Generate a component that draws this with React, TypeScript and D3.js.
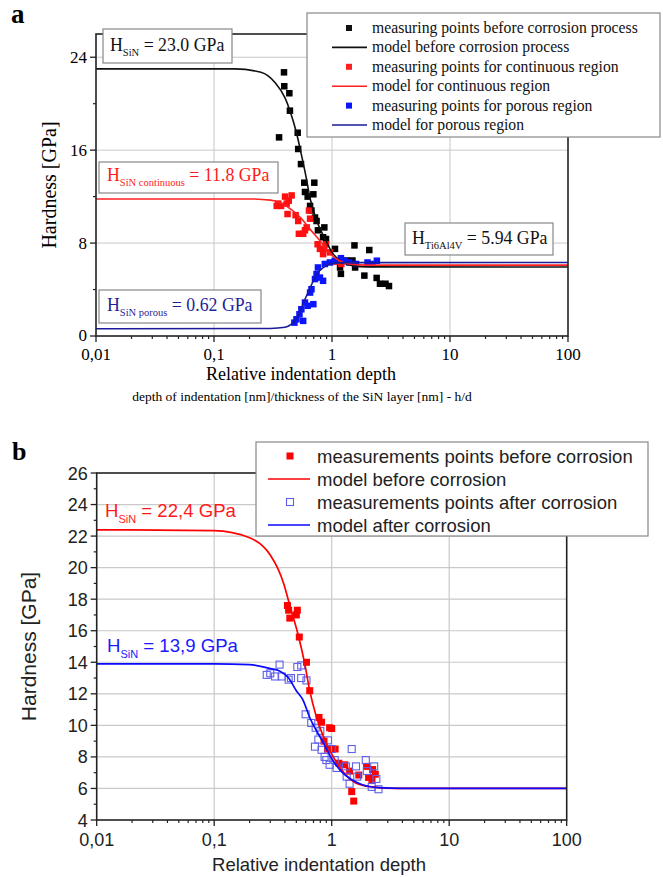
import React from 'react';
import * as d3 from 'd3';

// ---------- shared axis data ----------
const X_TICKS = [0.01, 0.1, 1, 10, 100];
const X_TICK_LABELS = ['0,01', '0,1', '1', '10', '100'];
const X_GRID = [0.1, 1, 10];

// ---------- panel a ----------
const A_Y_TICKS = [0, 8, 16, 24];
const A_Y_MINOR = [4, 12, 20];
const A_Y_GRID = [8, 16, 24];

const A_BEFORE_POINTS: [number, number][] = [
  [0.392, 22.7], [0.394, 21.5], [0.435, 20.9], [0.44, 19.4], [0.356, 17.1], [0.512, 17.5],
  [0.517, 16.1], [0.546, 14.8], [0.582, 13.2], [0.708, 13.2], [0.59, 12.4], [0.622, 12.0],
  [0.695, 12.2], [0.652, 11.2], [0.67, 10.8], [0.718, 10.2], [0.74, 9.9], [0.861, 9.35],
  [0.76, 9.1], [0.84, 8.5], [0.89, 8.35], [1.06, 7.5], [1.55, 7.8], [2.07, 7.4],
  [1.17, 5.9], [1.19, 5.35], [1.33, 6.5], [1.49, 6.5], [1.57, 5.9], [1.88, 5.2],
  [2.39, 5.0], [2.55, 4.5], [2.84, 4.5], [3.04, 4.3],
];
const A_CONT_POINTS: [number, number][] = [
  [0.34, 11.2], [0.35, 11.4], [0.37, 11.2], [0.40, 12.0], [0.413, 11.4], [0.43, 11.65],
  [0.455, 12.1], [0.42, 10.5], [0.492, 10.4], [0.517, 9.9], [0.524, 8.8], [0.57, 8.8],
  [0.59, 9.1], [0.61, 9.35], [0.638, 10.8], [0.652, 10.1], [0.755, 7.9], [0.79, 7.5],
  [0.86, 7.5], [0.89, 7.9], [0.84, 7.05], [0.96, 7.2], [1.05, 6.4], [1.2, 6.2],
];
const A_POROUS_POINTS: [number, number][] = [
  [0.48, 1.15], [0.50, 1.44], [0.57, 1.3], [0.53, 1.87], [0.55, 2.3], [0.59, 2.88],
  [0.622, 2.6], [0.695, 2.74], [0.652, 3.74], [0.67, 4.03], [0.718, 4.9], [0.74, 5.33],
  [0.76, 5.9], [0.84, 4.75], [0.79, 5.03], [0.87, 6.2], [0.96, 6.33], [1.06, 6.48],
  [1.19, 6.7], [1.28, 6.48], [1.4, 6.33], [1.6, 6.2], [2.0, 6.33], [2.2, 6.2], [2.4, 6.48],
];
const A_BEFORE_MODEL: [number, number][] = [
  [0.01, 23.0], [0.15, 23.0], [0.25, 22.7], [0.33, 21.8], [0.4, 20.5], [0.44, 19.4],
  [0.5, 17.5], [0.54, 16.0], [0.6, 13.8], [0.65, 11.9], [0.75, 9.8], [0.87, 8.4],
  [1.0, 7.2], [1.2, 6.4], [1.5, 6.05], [2, 5.95], [100, 5.94],
];
const A_CONT_MODEL: [number, number][] = [
  [0.01, 11.8], [0.2, 11.8], [0.3, 11.7], [0.36, 11.5], [0.45, 10.9], [0.54, 10.2],
  [0.65, 9.2], [0.79, 8.2], [0.96, 7.1], [1.15, 6.5], [1.4, 6.2], [2, 6.1], [100, 6.1],
];
const A_POROUS_MODEL: [number, number][] = [
  [0.01, 0.62], [0.3, 0.65], [0.4, 0.75], [0.45, 1.0], [0.49, 1.4], [0.53, 2.0],
  [0.57, 2.8], [0.65, 4.1], [0.74, 5.3], [0.87, 6.0], [1.0, 6.25], [1.3, 6.32], [100, 6.33],
];
const A_LEGEND = [
  'measuring points before corrosion process',
  'model before corrosion process',
  'measuring points for continuous region',
  'model for continuous region',
  'measuring points for porous region',
  'model for porous region',
];

// ---------- panel b ----------
const B_Y_TICKS = [4, 6, 8, 10, 12, 14, 16, 18, 20, 22, 24, 26];
const B_Y_MINOR = [5, 7, 9, 11, 13, 15, 17, 19, 21, 23, 25];
const B_Y_GRID = [6, 8, 10, 12, 14, 16, 18, 20, 22, 24];

const B_BEFORE_POINTS: [number, number][] = [
  [0.42, 17.6], [0.43, 17.3], [0.44, 16.8], [0.50, 17.0], [0.51, 17.3], [0.53, 15.6],
  [0.61, 14.0], [0.65, 12.2], [0.78, 10.5], [0.82, 10.2], [0.96, 9.85], [1.0, 9.8],
  [0.86, 9.0], [0.92, 8.5], [1.07, 8.5], [1.15, 7.6], [1.29, 7.5], [1.42, 7.1],
  [1.48, 5.8], [1.54, 5.2], [1.7, 6.85], [1.98, 7.4], [2.06, 6.7], [2.23, 7.2],
  [2.35, 6.9], [2.2, 6.5],
];
const B_AFTER_POINTS: [number, number][] = [
  [0.28, 13.2], [0.30, 13.3], [0.33, 13.1], [0.36, 13.85], [0.375, 13.1], [0.43, 12.9],
  [0.45, 13.0], [0.51, 13.7], [0.55, 13.8], [0.55, 13.0], [0.61, 12.85], [0.60, 10.7],
  [0.67, 10.15], [0.73, 9.85], [0.80, 9.65], [0.77, 9.1], [0.72, 8.65], [0.82, 8.45],
  [0.87, 8.0], [0.90, 7.8], [0.93, 9.05], [1.0, 8.5], [0.96, 7.5], [1.06, 7.8],
  [1.10, 7.3], [1.32, 7.4], [1.34, 6.75], [1.42, 6.3], [1.48, 8.5], [1.61, 7.4],
  [1.65, 6.75], [1.95, 7.8], [1.99, 7.1], [2.19, 6.1], [2.3, 7.4], [2.4, 6.6], [2.5, 5.95],
];
const B_BEFORE_MODEL: [number, number][] = [
  [0.01, 22.4], [0.1, 22.35], [0.2, 21.9], [0.3, 20.8], [0.35, 19.9], [0.39, 19.0],
  [0.44, 17.6], [0.52, 15.7], [0.59, 13.9], [0.65, 12.2], [0.74, 10.55], [0.87, 9.1],
  [1.07, 7.8], [1.3, 6.9], [1.6, 6.35], [2.2, 6.1], [3.5, 6.0], [100, 6.0],
];
const B_AFTER_MODEL: [number, number][] = [
  [0.01, 13.9], [0.1, 13.9], [0.2, 13.85], [0.3, 13.6], [0.36, 13.45], [0.43, 13.0],
  [0.5, 12.2], [0.57, 11.6], [0.65, 10.5], [0.75, 9.6], [0.85, 8.9], [1.0, 7.9],
  [1.2, 7.1], [1.45, 6.6], [1.8, 6.25], [2.5, 6.05], [4, 6.0], [100, 6.0],
];
const B_LEGEND = [
  'measurements points before corrosion',
  'model before corrosion',
  'measurements points after corrosion',
  'model after corrosion',
];

// ---------- helpers ----------
const SERIF = '"Liberation Serif", "Times New Roman", serif';
const SANS = '"Liberation Sans", Arial, sans-serif';

function minorLogTicks(): number[] {
  const out: number[] = [];
  for (let i = 0; i < X_TICKS.length - 1; i++) {
    for (let k = 2; k <= 9; k++) out.push(X_TICKS[i] * k);
  }
  return out;
}

function PanelA() {
  const x = d3.scaleLog().domain([0.01, 100]).range([96, 568]);
  const y = d3.scaleLinear().domain([0, 26]).range([336, 34]);
  const line = d3.line<[number, number]>().x(d => x(d[0])).y(d => y(d[1])).curve(d3.curveMonotoneX);
  const [x0, x1] = x.range();
  const [y0, y1] = y.range();
  const grid = '#c9c9c9';
  const sq = 6.5;
  const sqs = (pts: [number, number][], fill: string) =>
    pts.map((p, i) => (
      <rect key={i} x={x(p[0]) - sq / 2} y={y(p[1]) - sq / 2} width={sq} height={sq} fill={fill} />
    ));
  const minor = minorLogTicks();
  return (
    <g>
      <text x={11} y={23} fontFamily={SERIF} fontWeight="bold" fontSize={27}>a</text>
      {X_GRID.map(v => <line key={'gx' + v} x1={x(v)} x2={x(v)} y1={y0} y2={y1} stroke={grid} strokeWidth={1} />)}
      {A_Y_GRID.map(v => <line key={'gy' + v} x1={x0} x2={x1} y1={y(v)} y2={y(v)} stroke={grid} strokeWidth={1} />)}
      {sqs(A_BEFORE_POINTS, '#000')}
      {sqs(A_CONT_POINTS, '#ff1010')}
      {sqs(A_POROUS_POINTS, '#0a14ff')}
      <path d={line(A_BEFORE_MODEL) || ''} fill="none" stroke="#111" strokeWidth={1.6} />
      <path d={line(A_CONT_MODEL) || ''} fill="none" stroke="#ff2020" strokeWidth={1.6} />
      <path d={line(A_POROUS_MODEL) || ''} fill="none" stroke="#1a1a9a" strokeWidth={1.6} />
      <rect x={x0} y={y1} width={x1 - x0} height={y0 - y1} fill="none" stroke="#222" strokeWidth={1.6} />
      {A_Y_TICKS.map(v => (
        <g key={'yt' + v}>
          <line x1={x0 - 6} x2={x0} y1={y(v)} y2={y(v)} stroke="#222" strokeWidth={1.3} />
          <text x={x0 - 9} y={y(v) + (v === 0 ? 4.5 : 6)} textAnchor="end" fontFamily={SERIF} fontSize={17}>{v}</text>
        </g>
      ))}
      {A_Y_MINOR.map(v => <line key={'ym' + v} x1={x0 - 3} x2={x0} y1={y(v)} y2={y(v)} stroke="#222" strokeWidth={1.2} />)}
      {X_TICKS.map((v, i) => (
        <g key={'xt' + v}>
          <line x1={x(v)} x2={x(v)} y1={y0} y2={y0 + 6} stroke="#222" strokeWidth={1.3} />
          <text x={x(v)} y={y0 + 24} textAnchor="middle" fontFamily={SERIF} fontSize={17}>{X_TICK_LABELS[i]}</text>
        </g>
      ))}
      {minor.map(v => <line key={'xm' + v} x1={x(v)} x2={x(v)} y1={y0} y2={y0 + 3} stroke="#222" strokeWidth={1.2} />)}
      <text transform={`translate(56,${(y0 + y1) / 2}) rotate(-90)`} textAnchor="middle" fontFamily={SERIF} fontSize={20}>Hardness [GPa]</text>
      <text x={301} y={380} textAnchor="middle" fontFamily={SERIF} fontSize={18}>Relative indentation depth</text>
      <text x={302} y={401} textAnchor="middle" fontFamily={SERIF} fontSize={13.5}>depth of indentation [nm]/thickness of the SiN layer [nm] - h/d</text>
      <rect x={103} y={29} width={129} height={34} fill="#fff" stroke="#888" strokeWidth={1.2} />
      <text x={110} y={51} fontFamily={SERIF} fontSize={17.8} fill="#111">H<tspan fontSize={10.5} dy={5}>SiN</tspan><tspan dy={-5}> = 23.0 GPa</tspan></text>
      <rect x={99} y={162} width={179} height={31} fill="#fff" stroke="#888" strokeWidth={1.2} />
      <text x={107} y={181} fontFamily={SERIF} fontSize={17.8} fill="#ff1a1a">H<tspan fontSize={10.5} dy={5}>SiN continuous</tspan><tspan dy={-5}> = 11.8 GPa</tspan></text>
      <rect x={99} y={290} width={162} height={33} fill="#fff" stroke="#888" strokeWidth={1.2} />
      <text x={107} y={311} fontFamily={SERIF} fontSize={17.8} fill="#1f1f9a">H<tspan fontSize={10.5} dy={5}>SiN porous</tspan><tspan dy={-5}> = 0.62 GPa</tspan></text>
      <rect x={405} y={223} width={148} height={32} fill="#fff" stroke="#888" strokeWidth={1.2} />
      <text x={412} y={244} fontFamily={SERIF} fontSize={17.8} fill="#111">H<tspan fontSize={10.5} dy={5}>Ti6Al4V</tspan><tspan dy={-5}> = 5.94 GPa</tspan></text>
      <rect x={307} y={13} width={353} height={124} fill="#fff" stroke="#888" strokeWidth={1.2} />
      {A_LEGEND.map((t, i) => {
        const cy = 28 + i * 19.4;
        const col = i < 2 ? '#111' : i < 4 ? '#ff2020' : i % 2 === 0 ? '#0a14ff' : '#1a1a9a';
        return (
          <g key={'la' + i}>
            {i % 2 === 0
              ? <rect x={349 - 3} y={cy - 3} width={6} height={6} fill={col} />
              : <line x1={332} x2={367} y1={cy} y2={cy} stroke={col} strokeWidth={1.6} />}
            <text x={372} y={cy + 5} fontFamily={SERIF} fontSize={15.7} fill="#111">{t}</text>
          </g>
        );
      })}
    </g>
  );
}

function PanelB() {
  const x = d3.scaleLog().domain([0.01, 100]).range([96.7, 566.7]);
  const y = d3.scaleLinear().domain([4, 26]).range([820, 473]);
  const line = d3.line<[number, number]>().x(d => x(d[0])).y(d => y(d[1])).curve(d3.curveMonotoneX);
  const [x0, x1] = x.range();
  const [y0, y1] = y.range();
  const grid = '#c9c9c9';
  const sq = 7;
  const minor = minorLogTicks();
  return (
    <g>
      <text x={12} y={460} fontFamily={SERIF} fontWeight="bold" fontSize={26}>b</text>
      {X_GRID.map(v => <line key={'gx' + v} x1={x(v)} x2={x(v)} y1={y0} y2={y1} stroke={grid} strokeWidth={1.2} />)}
      {B_Y_GRID.map(v => <line key={'gy' + v} x1={x0} x2={x1} y1={y(v)} y2={y(v)} stroke={grid} strokeWidth={1.2} />)}
      {B_BEFORE_POINTS.map((p, i) => (
        <rect key={'bp' + i} x={x(p[0]) - sq / 2} y={y(p[1]) - sq / 2} width={sq} height={sq} fill="#ff0000" />
      ))}
      {B_AFTER_POINTS.map((p, i) => (
        <rect key={'ap' + i} x={x(p[0]) - 3.5} y={y(p[1]) - 3.5} width={7} height={7} fill="none" stroke="#5f5fe8" strokeWidth={1.1} />
      ))}
      <path d={line(B_BEFORE_MODEL) || ''} fill="none" stroke="#ff0000" strokeWidth={1.7} />
      <path d={line(B_AFTER_MODEL) || ''} fill="none" stroke="#0a0aff" strokeWidth={1.7} />
      <rect x={x0} y={y1} width={x1 - x0} height={y0 - y1} fill="none" stroke="#222" strokeWidth={1.6} />
      {B_Y_TICKS.map(v => (
        <g key={'yt' + v}>
          <line x1={x0 - 6} x2={x0} y1={y(v)} y2={y(v)} stroke="#222" strokeWidth={1.3} />
          <text x={x0 - 9} y={y(v) + 6.5} textAnchor="end" fontFamily={SANS} fontSize={18} fill="#222">{v}</text>
        </g>
      ))}
      {B_Y_MINOR.map(v => <line key={'ym' + v} x1={x0 - 3} x2={x0} y1={y(v)} y2={y(v)} stroke="#222" strokeWidth={1.2} />)}
      {X_TICKS.map((v, i) => (
        <g key={'xt' + v}>
          <line x1={x(v)} x2={x(v)} y1={y0} y2={y0 + 6} stroke="#222" strokeWidth={1.3} />
          <text x={x(v)} y={y0 + 26} textAnchor="middle" fontFamily={SANS} fontSize={18} fill="#222">{X_TICK_LABELS[i]}</text>
        </g>
      ))}
      {minor.map(v => <line key={'xm' + v} x1={x(v)} x2={x(v)} y1={y0} y2={y0 + 3} stroke="#222" strokeWidth={1.2} />)}
      <text transform={`translate(36,${(y0 + y1) / 2}) rotate(-90)`} textAnchor="middle" fontFamily={SANS} fontSize={21} fill="#222">Hardness [GPa]</text>
      <text x={319} y={871} textAnchor="middle" fontFamily={SANS} fontSize={18.5} fill="#222">Relative indentation depth</text>
      <text x={105} y={517} fontFamily={SANS} fontSize={18.6} fill="#ff1a1a">H<tspan fontSize={11} dy={6}>SiN</tspan><tspan dy={-6}> = 22,4 GPa</tspan></text>
      <text x={107} y={652} fontFamily={SANS} fontSize={18.6} fill="#1a1aff">H<tspan fontSize={11} dy={6}>SiN</tspan><tspan dy={-6}> = 13,9 GPa</tspan></text>
      <rect x={256} y={442} width={392} height={94} fill="#fff" stroke="#888" strokeWidth={1.2} />
      {B_LEGEND.map((t, i) => {
        const cy = 456 + i * 23;
        return (
          <g key={'lb' + i}>
            {i === 0 && <rect x={290 - 3.5} y={cy - 3.5} width={7} height={7} fill="#ff0000" />}
            {i === 1 && <line x1={268} x2={310} y1={cy} y2={cy} stroke="#ff0000" strokeWidth={1.7} />}
            {i === 2 && <rect x={290 - 3.5} y={cy - 3.5} width={7} height={7} fill="none" stroke="#5f5fe8" strokeWidth={1.1} />}
            {i === 3 && <line x1={268} x2={310} y1={cy} y2={cy} stroke="#0a0aff" strokeWidth={1.7} />}
            <text x={317} y={cy + 6.5} fontFamily={SANS} fontSize={18.5} fill="#222">{t}</text>
          </g>
        );
      })}
    </g>
  );
}

export default function App() {
  return (
    <svg width={663} height={877} viewBox="0 0 663 877" style={{ position: 'absolute', left: 0, top: 0, background: '#fff' }}>
      <rect x={0} y={0} width={663} height={877} fill="#fff" />
      <PanelA />
      <PanelB />
    </svg>
  );
}
